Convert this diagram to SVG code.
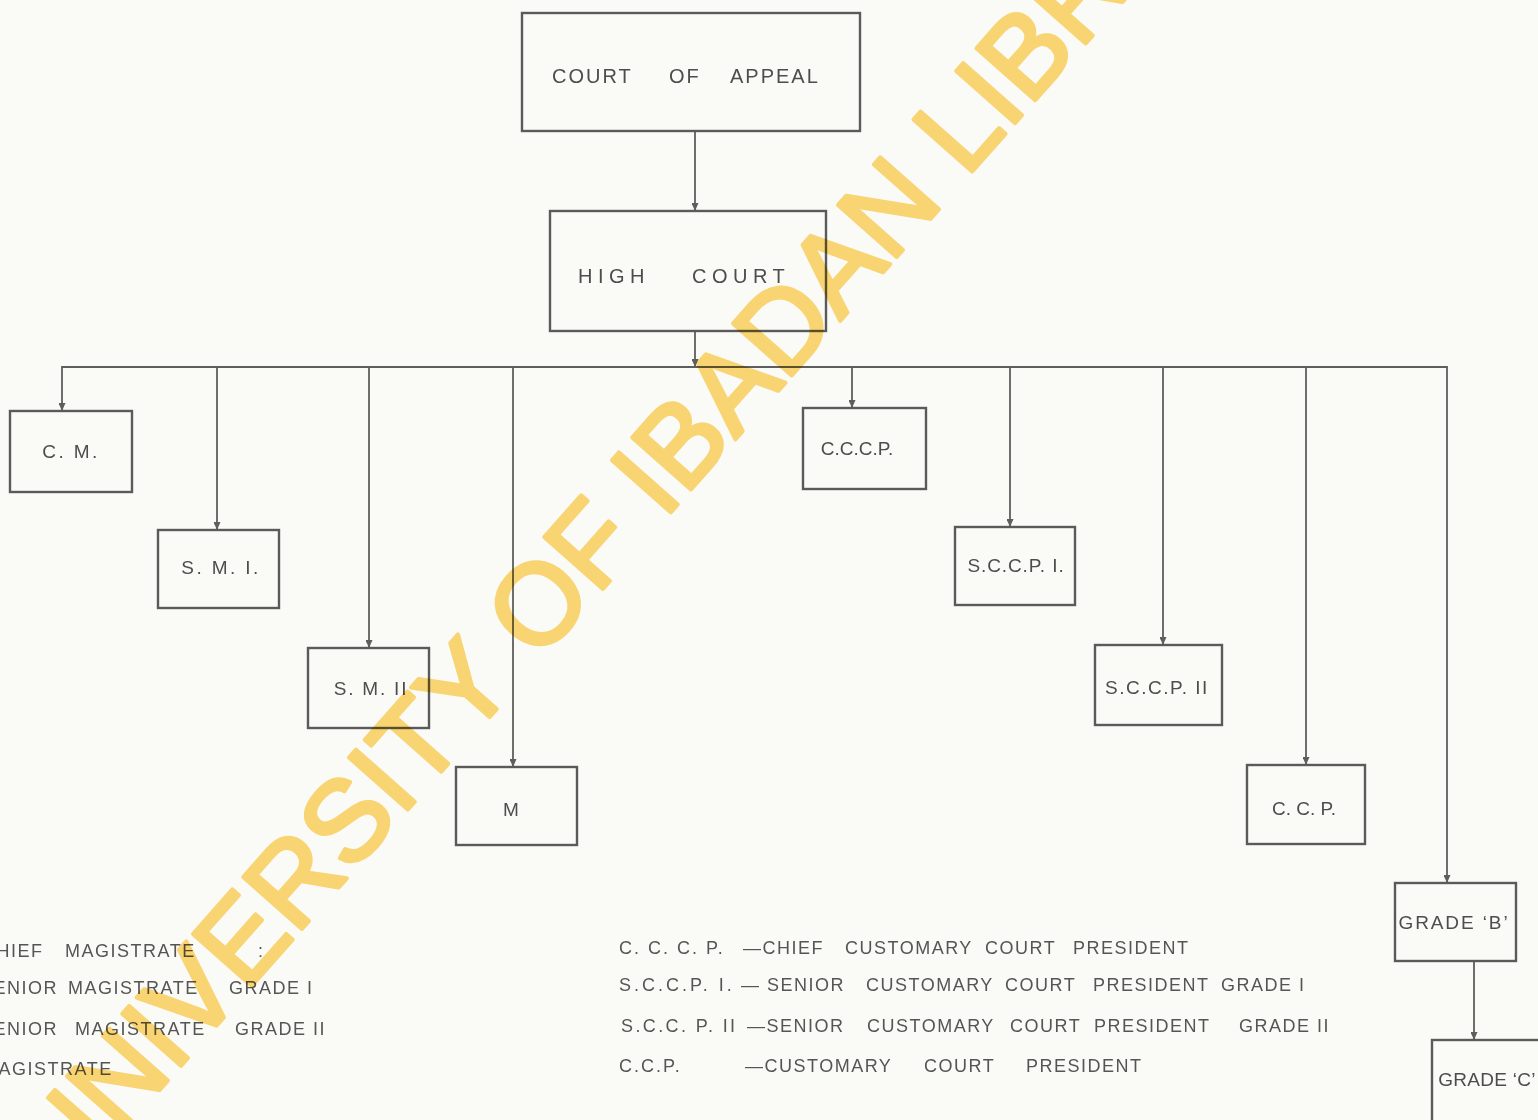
<svg xmlns="http://www.w3.org/2000/svg" width="1538" height="1120" viewBox="0 0 1538 1120">
<style>
.box{fill:none;stroke:#5a5a5a;stroke-width:2.4}
.lbl{font-family:"Liberation Sans",Arial,sans-serif;font-size:19px;fill:#4d4d4d;text-anchor:middle}
.leg{font-family:"Liberation Sans",Arial,sans-serif;font-size:18px;fill:#555;letter-spacing:1.5px}
.con{fill:none;stroke:#5e5e5e;stroke-width:1.8;marker-end:url(#arr)}
.wm{font-family:"Liberation Sans",Arial,sans-serif;font-size:114px;fill:#FDD976;stroke:#FDD976;stroke-width:4;stroke-linejoin:round;mix-blend-mode:multiply}
</style>
<defs>
<marker id="arr" markerUnits="userSpaceOnUse" markerWidth="8" markerHeight="7" refX="8" refY="3.5" orient="auto">
<path d="M0,0 L8,3.5 L0,7 z" fill="#5e5e5e"/>
</marker>
</defs>
<rect x="0" y="0" width="1538" height="1120" fill="#FAFAF6"/>

<g id="connectors">
<path class="con" d="M695,131 V211"/>
<path class="con" d="M695,331 V367"/>
<path class="con" d="M695,367 H62 V411"/>
<path class="con" d="M695,367 H217 V530"/>
<path class="con" d="M695,367 H369 V648"/>
<path class="con" d="M695,367 H513 V767"/>
<path class="con" d="M695,367 H852 V408"/>
<path class="con" d="M695,367 H1010 V527"/>
<path class="con" d="M695,367 H1163 V645"/>
<path class="con" d="M695,367 H1306 V765"/>
<path class="con" d="M695,367 H1447 V883"/>
<path class="con" d="M1474,961 V1040"/>
</g>

<g id="court-of-appeal">
<rect class="box" x="522" y="13" width="338" height="118"/>
<text class="lbl" style="text-anchor:start;font-size:20px;letter-spacing:2px" y="83"><tspan x="552">COURT</tspan><tspan x="669">OF</tspan><tspan x="730">APPEAL</tspan></text>
</g>
<g id="high-court">
<rect class="box" x="550" y="211" width="276" height="120"/>
<text class="lbl" style="text-anchor:start;font-size:20px;letter-spacing:5.5px" y="283"><tspan x="578">HIGH</tspan><tspan x="692">COURT</tspan></text>
</g>
<g id="cm">
<rect class="box" x="10" y="411" width="122" height="81"/>
<text class="lbl" x="71" y="458" style="letter-spacing:2.4px">C. M.</text>
</g>
<g id="smi">
<rect class="box" x="158" y="530" width="121" height="78"/>
<text class="lbl" x="221" y="574" style="letter-spacing:2.4px">S. M. I.</text>
</g>
<g id="smii">
<rect class="box" x="308" y="648" width="121" height="80"/>
<text class="lbl" x="371" y="695" style="letter-spacing:1.8px">S. M. II</text>
</g>
<g id="m">
<rect class="box" x="456" y="767" width="121" height="78"/>
<text class="lbl" x="511" y="816">M</text>
</g>
<g id="cccp">
<rect class="box" x="803" y="408" width="123" height="81"/>
<text class="lbl" x="857" y="455">C.C.C.P.</text>
</g>
<g id="sccpi">
<rect class="box" x="955" y="527" width="120" height="78"/>
<text class="lbl" x="1016" y="572" style="letter-spacing:0.9px">S.C.C.P. I.</text>
</g>
<g id="sccpii">
<rect class="box" x="1095" y="645" width="127" height="80"/>
<text class="lbl" x="1157" y="694" style="letter-spacing:1.5px">S.C.C.P. II</text>
</g>
<g id="ccp">
<rect class="box" x="1247" y="765" width="118" height="79"/>
<text class="lbl" x="1304" y="815">C. C. P.</text>
</g>
<g id="grade-b">
<rect class="box" x="1395" y="883" width="121" height="78"/>
<text class="lbl" x="1454" y="929" style="letter-spacing:1.9px">GRADE ‘B’</text>
</g>
<g id="grade-c">
<rect class="box" x="1432" y="1040" width="120" height="90"/>
<text class="lbl" x="1487" y="1086" style="letter-spacing:0.3px">GRADE ‘C’</text>
</g>

<g id="legend-left">
<text class="leg" y="957"><tspan x="-18">CHIEF</tspan><tspan x="65">MAGISTRATE</tspan><tspan x="258">:</tspan></text>
<text class="leg" y="994"><tspan x="-20">SENIOR</tspan><tspan x="68">MAGISTRATE</tspan><tspan x="229">GRADE I</tspan></text>
<text class="leg" y="1035"><tspan x="-20">SENIOR</tspan><tspan x="75">MAGISTRATE</tspan><tspan x="235">GRADE II</tspan></text>
<text class="leg" y="1075"><tspan x="-18">MAGISTRATE</tspan></text>
</g>
<g id="legend-right">
<text class="leg" y="954"><tspan x="619" style="letter-spacing:2px">C. C. C. P.</tspan><tspan x="743">—CHIEF</tspan><tspan x="845">CUSTOMARY</tspan><tspan x="985">COURT</tspan><tspan x="1073">PRESIDENT</tspan></text>
<text class="leg" y="991"><tspan x="619" style="letter-spacing:3px">S.C.C.P. I.</tspan><tspan x="741">— SENIOR</tspan><tspan x="866">CUSTOMARY</tspan><tspan x="1005">COURT</tspan><tspan x="1093">PRESIDENT</tspan><tspan x="1221">GRADE I</tspan></text>
<text class="leg" y="1032"><tspan x="621" style="letter-spacing:2.4px">S.C.C. P. II</tspan><tspan x="747">—SENIOR</tspan><tspan x="867">CUSTOMARY</tspan><tspan x="1010">COURT</tspan><tspan x="1094">PRESIDENT</tspan><tspan x="1239">GRADE II</tspan></text>
<text class="leg" y="1072"><tspan x="619" style="letter-spacing:2px">C.C.P.</tspan><tspan x="745">—CUSTOMARY</tspan><tspan x="924">COURT</tspan><tspan x="1026">PRESIDENT</tspan></text>
</g>

<text class="wm" transform="translate(65,1197) rotate(-48.5)">UNIVERSITY OF IBADAN LIBRARY</text>
</svg>
